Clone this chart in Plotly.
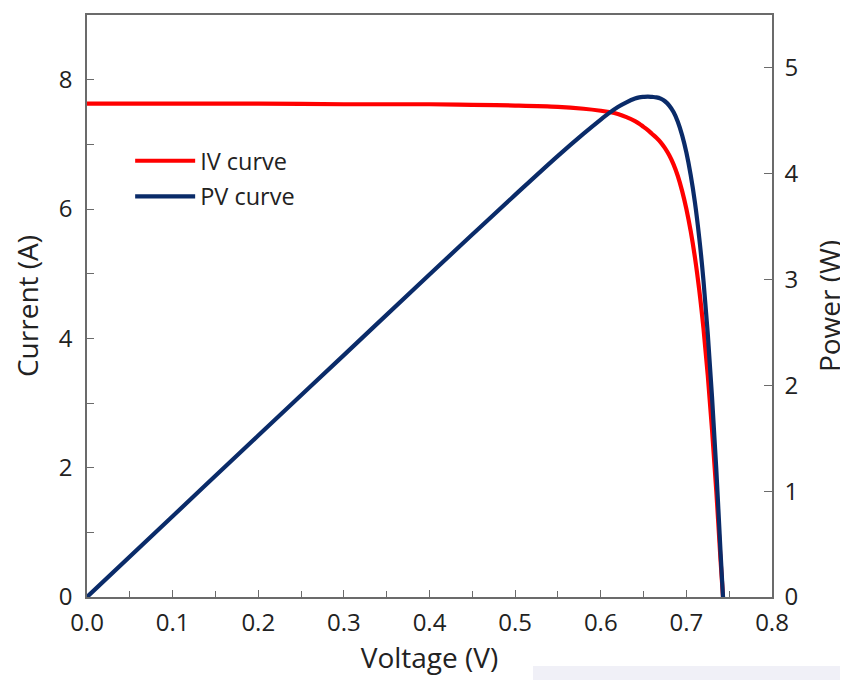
import plotly.graph_objects as go

# Data
voltage = [0.00, 0.10, 0.20, 0.30, 0.40, 0.45, 0.50, 0.55, 0.58, 0.60, 0.61, 0.62, 0.63,
           0.64, 0.645, 0.65, 0.655, 0.66, 0.665, 0.67, 0.675, 0.68, 0.685, 0.69,
           0.695, 0.70, 0.705, 0.71, 0.715, 0.72, 0.725, 0.73, 0.735, 0.74, 0.7428]
current = [7.63, 7.63, 7.63, 7.62, 7.62, 7.61, 7.60, 7.58, 7.55, 7.52, 7.50, 7.47, 7.42,
           7.36, 7.32, 7.27, 7.22, 7.16, 7.10, 7.03, 6.94, 6.83, 6.69, 6.51,
           6.28, 6.00, 5.66, 5.25, 4.75, 4.15, 3.43, 2.58, 1.63, 0.55, 0.00]
power = [0.000, 0.763, 1.526, 2.286, 3.048, 3.425, 3.800, 4.169, 4.379, 4.512, 4.575, 4.631, 4.675,
         4.710, 4.721, 4.726, 4.729, 4.726, 4.722, 4.710, 4.685, 4.644, 4.583, 4.492,
         4.365, 4.200, 3.990, 3.728, 3.396, 2.988, 2.487, 1.883, 1.198, 0.407, 0.000]

x_ticks = [0.0, 0.1, 0.2, 0.3, 0.4, 0.5, 0.6, 0.7, 0.8]
x_labels = ["0.0", "0.1", "0.2", "0.3", "0.4", "0.5", "0.6", "0.7", "0.8"]
y_ticks = [0, 2, 4, 6, 8]
y2_ticks = [0, 1, 2, 3, 4, 5]

RED = "#ff0000"
NAVY = "#0a2b69"
AXIS = "#6b6b6b"
FONT = "Open Sans"
TITLE_FONT = dict(family=FONT, size=28, color="#222222")

# The page body adds an 8px offset; margins compensate so the plot frame
# lands at the reference position (x 86..771, y 14..596 in page pixels).
ML, MR, MT, MB = 79, 84, 7, 91
PW = 848 - ML - MR
PH = 680 - MT - MB

fig = go.Figure()
fig.add_trace(go.Scatter(x=voltage, y=current, name="IV curve", mode="lines", legendgroup="iv",
                         line=dict(color=RED, width=4.2, shape="spline", smoothing=1)))
fig.add_trace(go.Scatter(x=voltage, y=power, name="PV curve", mode="lines", yaxis="y2",
                         legendgroup="pv",
                         line=dict(color=NAVY, width=4.2, shape="spline", smoothing=1)))

fig.update_layout(
    width=848, height=680,
    margin=dict(l=ML, r=MR, t=MT, b=MB),
    paper_bgcolor="white", plot_bgcolor="white",
    font=dict(family=FONT, size=24, color="#222222"),
    showlegend=True,
    legend=dict(x=0.063, y=0.787, xanchor="left", yanchor="top",
                bgcolor="rgba(0,0,0,0)", font=dict(size=23.5),
                itemwidth=60, tracegroupgap=2),
    xaxis=dict(range=[0, 0.8], tickvals=x_ticks, ticktext=x_labels, automargin=False,
               showline=True, linecolor=AXIS, linewidth=1.5, mirror=True,
               ticks="inside", ticklen=7, tickcolor=AXIS, tickwidth=1.3,
               minor=dict(dtick=0.05, ticks="inside", ticklen=6, tickcolor=AXIS, tickwidth=1.3),
               showgrid=False, zeroline=False, ticklabelstandoff=3,
               title=dict(text="Voltage (V)", standoff=12, font=TITLE_FONT)),
    yaxis=dict(range=[0, 9], tickvals=y_ticks, automargin=False,
               showline=True, linecolor=AXIS, linewidth=1.5,
               ticks="inside", ticklen=7, tickcolor=AXIS, tickwidth=1.3,
               minor=dict(dtick=1, ticks="inside", ticklen=7, tickcolor=AXIS, tickwidth=1.3),
               showgrid=False, zeroline=False, ticklabelstandoff=8,
               title=dict(text="Current (A)", standoff=26, font=TITLE_FONT)),
    yaxis2=dict(range=[0, 5.5], tickvals=y2_ticks, overlaying="y", side="right",
                automargin=False,
                showline=True, linecolor=AXIS, linewidth=1.5,
                ticks="inside", ticklen=8, tickcolor=AXIS, tickwidth=1.3,
                showgrid=False, zeroline=False, ticklabelstandoff=6,
                title=dict(text="Power (W)", standoff=23, font=TITLE_FONT)),
    shapes=[dict(type="rect", xref="paper", yref="paper",
                 x0=(533 - 8 - ML) / PW, x1=(848 - ML) / PW,
                 y0=-(MB) / PH, y1=-(666 - 8 - (680 - MB)) / PH,
                 fillcolor="#f0f0f7", line=dict(width=0), layer="below")],
)

fig.write_html("out.html")
